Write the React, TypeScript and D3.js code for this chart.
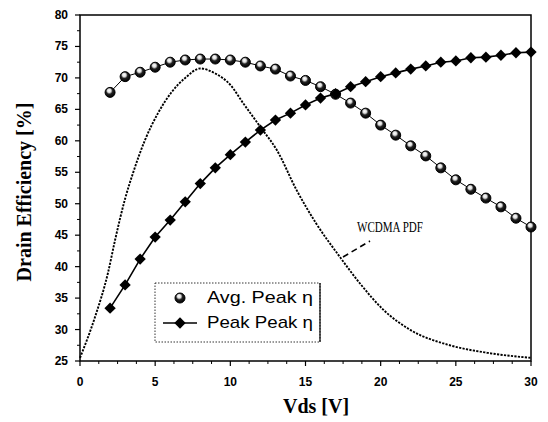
import React from "react";
import * as d3 from "d3";

const vds = [2,3,4,5,6,7,8,9,10,11,12,13,14,15,16,17,18,19,20,21,22,23,24,25,26,27,28,29,30];
const avgPeak = [67.7,70.2,70.9,71.7,72.5,72.85,73.0,73.0,72.85,72.5,71.9,71.4,70.3,69.6,68.6,67.4,66.0,64.4,62.5,60.9,59.2,57.6,55.7,53.8,52.3,50.9,49.5,47.7,46.3];
const peakPeak = [33.4,37.1,41.2,44.7,47.4,50.3,53.2,55.7,57.8,59.8,61.7,63.3,64.4,65.7,66.8,67.5,68.6,69.4,70.2,70.8,71.4,71.9,72.5,72.7,73.2,73.3,73.6,74.0,74.1];
const pdfX = [0,1.0,1.86,2.33,3.0,3.53,4.32,5.19,6.05,7.0,8.0,9.0,10.0,10.85,12.0,13.1,14.4,15.7,17.3,18.6,20.2,22.0,24.6,27.1,30];
const pdfY = [25.5,32.0,39.0,44.2,50.8,54.9,60.1,64.4,67.6,70.0,71.5,70.7,68.9,66.0,62.2,58.5,52.2,46.9,41.5,37.4,33.1,29.9,27.5,26.3,25.5];
const xTicks = [0,5,10,15,20,25,30];
const yTicks = [25,30,35,40,45,50,55,60,65,70,75,80];
const legendLabels = ["Avg. Peak \u03b7", "Peak Peak \u03b7"];

export default function App() {
  const W = 548, H = 422;
  const L = 80, R = 531, T = 15, B = 361;
  const x = d3.scaleLinear().domain([0, 30]).range([L, R]);
  const y = d3.scaleLinear().domain([25, 80]).range([B, T]);
  const lineAvg = d3.line<number>().x((_, i) => x(vds[i])).y((d) => y(d));
  const pdfLine = d3.line<number>().x((_, i) => x(pdfX[i])).y((d) => y(d)).curve(d3.curveMonotoneX);
  const diamond = d3.symbol().type(d3.symbolSquare).size(64)();
  const minorX = d3.range(0, 30.01, 1.25).filter((v) => v % 5 !== 0);
  const minorY = d3.range(25, 80.01, 2.5).filter((v) => v % 5 !== 0);
  const tickFont = "'Liberation Sans', Arial, sans-serif";
  const serif = "'Liberation Serif', 'Times New Roman', serif";

  const Ball = ({ cx, cy }: { cx: number; cy: number }) => (
    <circle cx={cx} cy={cy} r={5} fill="url(#ball)" stroke="#000" strokeWidth={1} />
  );
  const Dia = ({ cx, cy }: { cx: number; cy: number }) => (
    <path d={diamond} transform={`translate(${cx},${cy}) rotate(45)`} fill="#000" />
  );

  return (
    <svg width={W} height={H} style={{ position: "absolute", left: 0, top: 0, background: "#fff" }}>
      <defs>
        <radialGradient id="ball" cx="0.45" cy="0.4" r="0.6" fx="0.4" fy="0.3">
          <stop offset="0" stopColor="#fff" />
          <stop offset="0.3" stopColor="#ddd" />
          <stop offset="0.55" stopColor="#222" />
          <stop offset="1" stopColor="#000" />
        </radialGradient>
      </defs>
      <rect x={0} y={0} width={W} height={H} fill="#fff" />
      <rect x={L} y={T} width={R - L} height={B - T} fill="none" stroke="#000" strokeWidth={1.5} />
      {xTicks.map((t) => (
        <g key={"xt" + t}>
          <line x1={x(t)} x2={x(t)} y1={B} y2={B + 5} stroke="#000" strokeWidth={1.2} />
          <text x={x(t)} y={386} textAnchor="middle" fontFamily={tickFont} fontSize={12} fontWeight="bold">{t}</text>
        </g>
      ))}
      {minorX.map((t) => (
        <line key={"xm" + t} x1={x(t)} x2={x(t)} y1={B} y2={B + 3} stroke="#000" strokeWidth={1} />
      ))}
      {yTicks.map((t) => (
        <g key={"yt" + t}>
          <line x1={L - 5} x2={L} y1={y(t)} y2={y(t)} stroke="#000" strokeWidth={1.2} />
          <text x={68} y={y(t) + 4} textAnchor="end" fontFamily={tickFont} fontSize={12} fontWeight="bold">{t}</text>
        </g>
      ))}
      {minorY.map((t) => (
        <line key={"ym" + t} x1={L - 3} x2={L} y1={y(t)} y2={y(t)} stroke="#000" strokeWidth={1} />
      ))}
      <path d={pdfLine(pdfY) || ""} fill="none" stroke="#000" strokeWidth={1.9} strokeDasharray="2.2,1.3" />
      <line x1={343} y1={257} x2={370} y2={241} stroke="#000" strokeWidth={1.6} strokeDasharray="6,4" />
      <text x={357} y={232} fontFamily={serif} fontSize={15} textLength={66} lengthAdjust="spacingAndGlyphs">WCDMA PDF</text>
      <path d={lineAvg(avgPeak) || ""} fill="none" stroke="#000" strokeWidth={1} />
      <path d={lineAvg(peakPeak) || ""} fill="none" stroke="#000" strokeWidth={1.6} />
      {avgPeak.map((v, i) => <Ball key={"a" + i} cx={x(vds[i])} cy={y(v)} />)}
      {peakPeak.map((v, i) => <Dia key={"p" + i} cx={x(vds[i])} cy={y(v)} />)}
      <rect x={155} y={283} width={165} height={59} fill="#fff" stroke="#000" strokeWidth={0.8} strokeDasharray="1.5,1.5" />
      <line x1={320} y1={283} x2={320} y2={342} stroke="#000" strokeWidth={1.2} />
      <Ball cx={180} cy={298} />
      <line x1={163} x2={197} y1={323} y2={323} stroke="#000" strokeWidth={1.6} />
      <Dia cx={180} cy={323} />
      <text x={207} y={303} fontFamily={tickFont} fontSize={17} textLength={106} lengthAdjust="spacingAndGlyphs">{legendLabels[0]}</text>
      <text x={207} y={328} fontFamily={tickFont} fontSize={17} textLength={106} lengthAdjust="spacingAndGlyphs">{legendLabels[1]}</text>
      <text x={316} y={413} textAnchor="middle" fontFamily={serif} fontSize={20} fontWeight="bold">Vds [V]</text>
      <text transform="translate(31,192) rotate(-90)" textAnchor="middle" fontFamily={serif} fontSize={20} fontWeight="bold">Drain Efficiency [%]</text>
    </svg>
  );
}
